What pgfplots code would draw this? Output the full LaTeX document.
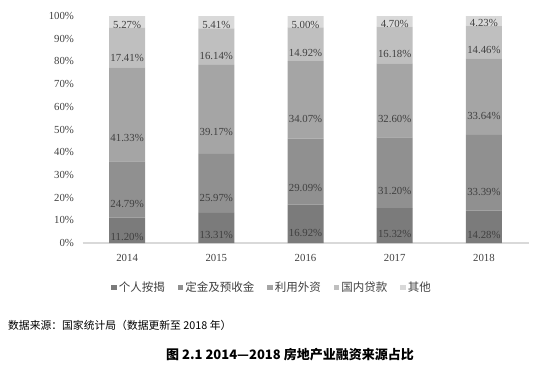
\documentclass[border=0pt]{standalone}
\usepackage{fontspec}
\setmainfont{Liberation Serif}
\newfontfamily\cjk{Noto Sans CJK SC}
\usepackage{pgfplots}
\pgfplotsset{compat=1.18}
\usepackage{pgfplotstable}

\pgfplotstableread{
x p1 p2 p3 p4 p5
0 11.20 24.79 41.33 17.41 5.27
1 13.31 25.97 39.17 16.14 5.41
2 16.92 29.09 34.07 14.92 5.00
3 15.32 31.20 32.60 16.18 4.70
4 14.28 33.39 33.64 14.46 4.23
}\datatable

\definecolor{c1}{HTML}{7B7B7B}
\definecolor{c2}{HTML}{909090}
\definecolor{c3}{HTML}{A5A5A5}
\definecolor{c4}{HTML}{BFBFBF}
\definecolor{c5}{HTML}{D9D9D9}
\definecolor{txt}{HTML}{404040}

\begin{document}
\begin{tikzpicture}
\path[use as bounding box] (0pt,0pt) rectangle (554pt,373pt);
\begin{axis}[
  at={(82.5pt,130pt)}, anchor=south west,
  scale only axis, width=446pt, height=227pt,
  ybar stacked, bar width=36pt,
  xmin=-0.5, xmax=4.5, ymin=0, ymax=100,
  xtick=data, xticklabels={2014,2015,2016,2017,2018},
  ytick={0,10,...,100}, yticklabel={\pgfmathprintnumber{\tick}\%},
  /pgf/number format/assume math mode=true,
  axis x line*=bottom, axis y line*=left,
  y axis line style={draw=none},
  x axis line style={draw=c5, line width=1.5pt, -},
  major tick length=0pt,
  tick label style={font=\fontsize{10.8}{12}\selectfont, text=txt},
  yticklabel style={xshift=-5pt},
  xticklabel style={yshift=-8pt},
  nodes near coords={\pgfmathprintnumber[fixed,fixed zerofill,precision=2]{\pgfplotspointmeta}\%},
  every node near coord/.append style={font=\fontsize{10.8}{12}\selectfont, text=txt, anchor=center, yshift={-0.5675pt*\segval}},
  legend style={at={(0.425,-0.195)}, anchor=center, draw=none, fill=none,
    legend columns=-1, font=\cjk\fontsize{11.5}{13}\selectfont, text=txt,
    /tikz/every even column/.append style={column sep=11pt}},
  legend image code/.code={\fill[#1] (0pt,-2.8pt) rectangle (5.5pt,2.7pt);},
]
\addplot[fill=c1, draw=none, point meta=\thisrow{p1}, visualization depends on={\thisrow{p1} \as \segval}] table[x=x, y=p1] {\datatable};
\addplot[fill=c2, draw=none, point meta=\thisrow{p2}, visualization depends on={\thisrow{p2} \as \segval}] table[x=x, y=p2] {\datatable};
\addplot[fill=c3, draw=none, point meta=\thisrow{p3}, visualization depends on={\thisrow{p3} \as \segval}] table[x=x, y=p3] {\datatable};
\addplot[fill=c4, draw=none, point meta=\thisrow{p4}, visualization depends on={\thisrow{p4} \as \segval}] table[x=x, y=p4] {\datatable};
\addplot[fill=c5, draw=none, point meta=\thisrow{p5}, visualization depends on={\thisrow{p5} \as \segval}] table[x=x, y=p5] {\datatable};
\legend{个人按揭,定金及预收金,利用外资,国内贷款,其他}
\end{axis}
\node[anchor=west, inner sep=0pt] at (8pt,48pt) {\cjk\fontsize{10.8}{12}\selectfont 数据来源：国家统计局（数据更新至 2018 年）};
\node[inner sep=0pt] at (290pt,18pt) {\cjk\bfseries\fontsize{13}{15}\selectfont 图 2.1 2014—2018 房地产业融资来源占比};
\end{tikzpicture}
\end{document}
